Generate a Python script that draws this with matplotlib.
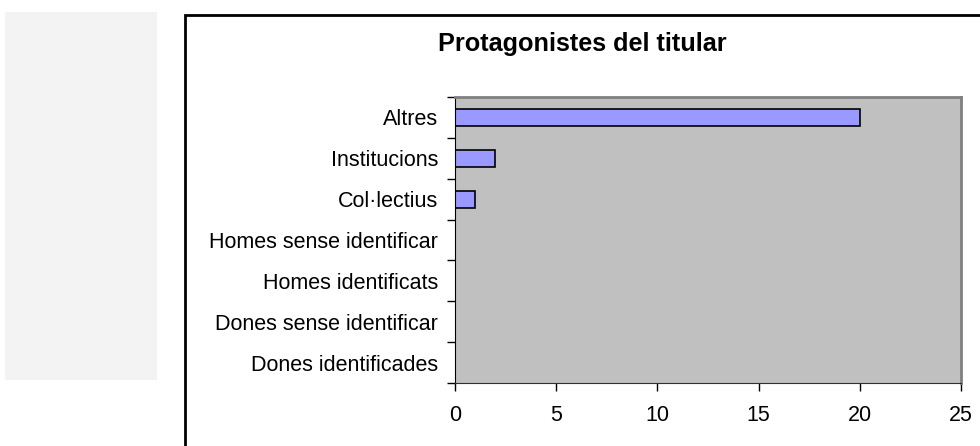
import matplotlib.pyplot as plt
from matplotlib.patches import Rectangle

plt.rcParams['font.family'] = ['Liberation Sans', 'DejaVu Sans']

# dades
categories = ['Dones identificades', 'Dones sense identificar', 'Homes identificats',
              'Homes sense identificar', "Col·lectius", 'Institucions', 'Altres']
values = [0, 0, 0, 0, 1, 2, 20]
x_ticks = [0, 5, 10, 15, 20, 25]
title = 'Protagonistes del titular'

W, H = 980, 446
fig = plt.figure(figsize=(W / 100, H / 100), dpi=100)

# panell gris clar de l'esquerra
fig.add_artist(Rectangle((5 / W, 1 - 380 / H), 152 / W, 368 / H,
                         transform=fig.transFigure, facecolor='#F3F3F3',
                         edgecolor='none', zorder=0))
# marc del gràfic
fig.add_artist(Rectangle((185 / W, -0.05), 900 / W, 1.05 - 15 / H,
                         transform=fig.transFigure, facecolor='white',
                         edgecolor='black', linewidth=2, zorder=0))

ax = fig.add_axes([455 / W, 1 - 383 / H, 506 / W, 286 / H])
ax.set_facecolor('#C0C0C0')

pos = list(range(len(categories)))
ax.barh(pos, values, height=0.42, color='#9999FF', edgecolor='black', linewidth=1.2)

ax.set_xlim(0, 25)
ax.set_ylim(-0.5, len(categories) - 0.5)
ax.set_xticks(x_ticks)
ax.set_xticklabels([str(t) for t in x_ticks], fontsize=15.5)

# marques a les vores de les categories, etiquetes al centre
ax.set_yticks([p - 0.5 for p in pos] + [len(categories) - 0.5])
ax.set_yticklabels([])
ax.set_yticks(pos, minor=True)
ax.set_yticklabels(categories, minor=True, fontsize=15.5)
ax.tick_params(axis='y', which='major', length=6, width=1, color='black', direction='out')
ax.tick_params(axis='y', which='minor', length=0, pad=12)
ax.tick_params(axis='x', length=6, width=1, color='black', direction='out', pad=10)

for s in ['top', 'right']:
    ax.spines[s].set_color('#808080')
    ax.spines[s].set_linewidth(2)
ax.spines['left'].set_color('black')
ax.spines['bottom'].set_color('#303030')

fig.text(582 / W, 1 - 44 / H, title, ha='center', va='center',
         fontsize=18.2, fontweight='bold')

fig.savefig('out.png', dpi=100)
